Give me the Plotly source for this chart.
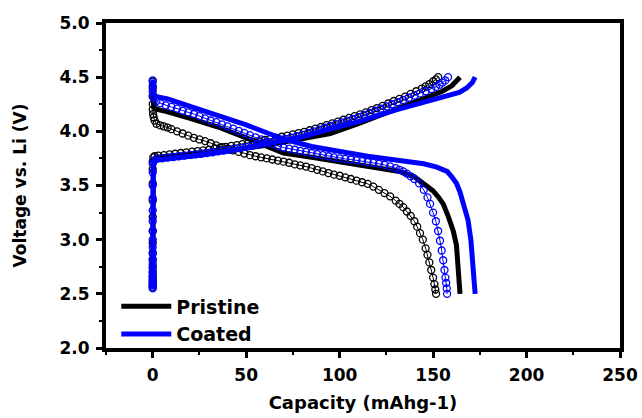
import plotly.graph_objects as go

# ---------------- data ----------------
# Pristine, open-circle series: discharge branch
pc_dis_x = [0, 0, 0, 0, 0, 0.2, 0.5, 1.0, 2, 4, 6, 8, 10, 13, 16, 19, 22, 25, 28, 31, 34, 37, 40, 43, 46, 49,
            52, 55, 58, 61, 64, 67, 70, 73, 76, 79, 82, 85, 88, 91, 94, 97, 100, 103, 106, 109, 112, 115,
            118, 121, 124, 127, 130, 132, 134, 136, 138, 140, 141.5, 143, 144.5, 146, 147, 148, 149, 150,
            150.7, 151.2, 151.6]
pc_dis_v = [4.46, 4.40, 4.32, 4.25, 4.20, 4.16, 4.13, 4.10, 4.07, 4.055, 4.045, 4.035, 4.02, 4.00, 3.98, 3.96,
            3.94, 3.925, 3.91, 3.89, 3.87, 3.855, 3.84, 3.825, 3.81, 3.795, 3.78, 3.77, 3.76, 3.75, 3.74,
            3.73, 3.72, 3.71, 3.695, 3.685, 3.675, 3.66, 3.645, 3.63, 3.615, 3.60, 3.59, 3.575, 3.56, 3.545,
            3.53, 3.515, 3.49, 3.46, 3.43, 3.40, 3.36, 3.33, 3.30, 3.26, 3.22, 3.17, 3.12, 3.06, 3.00, 2.92,
            2.86, 2.79, 2.72, 2.65, 2.59, 2.54, 2.50]
# Pristine, open-circle series: charge branch
pc_chg_x = [0, 0, 0, 0, 0, 0, 0, 0, 0, 0, 0, 0, 0, 0, 0, 0, 0.3, 1, 3, 6, 9, 12, 15, 18, 21, 24, 27, 30, 33,
            36, 39, 42, 45, 48, 51, 54, 57, 60, 63, 66, 69, 72, 75, 78, 81, 84, 87, 90, 93, 96, 99, 102,
            105, 108, 111, 114, 117, 120, 123, 126, 129, 132, 135, 138, 141, 144, 146, 148, 150, 151.5, 152.7]
pc_chg_v = [2.56, 2.58, 2.60, 2.63, 2.66, 2.70, 2.75, 2.81, 2.88, 2.97, 3.08, 3.21, 3.36, 3.52, 3.65, 3.72,
            3.76, 3.77, 3.775, 3.78, 3.787, 3.793, 3.80, 3.806, 3.812, 3.818, 3.824, 3.83, 3.84, 3.848,
            3.856, 3.865, 3.873, 3.882, 3.891, 3.90, 3.91, 3.92, 3.93, 3.94, 3.95, 3.96, 3.972, 3.983,
            3.995, 4.01, 4.025, 4.04, 4.057, 4.073, 4.09, 4.107, 4.124, 4.14, 4.157, 4.175, 4.195, 4.215,
            4.235, 4.257, 4.28, 4.30, 4.32, 4.345, 4.37, 4.395, 4.415, 4.435, 4.46, 4.48, 4.50]

# Pristine, solid-line series
pl_dis_x = [0, 0, 0.5, 3, 8, 20, 35, 50, 60, 70, 85, 100, 115, 132, 140, 145, 150, 153, 155.4, 158, 160.8,
            162.5, 163.4, 164, 164.4]
pl_dis_v = [4.46, 4.30, 4.22, 4.20, 4.18, 4.12, 4.04, 3.94, 3.87, 3.80, 3.76, 3.72, 3.68, 3.63, 3.58, 3.52,
            3.45, 3.39, 3.33, 3.22, 3.08, 2.95, 2.78, 2.65, 2.50]
pl_chg_x = [0, 0, 0.3, 2, 10, 25, 41, 60, 80, 95, 110, 130.7, 148.4, 155, 160, 162.5, 164.4]
pl_chg_v = [2.56, 3.68, 3.73, 3.76, 3.775, 3.79, 3.82, 3.87, 3.93, 3.98, 4.07, 4.21, 4.33, 4.37, 4.42,
            4.46, 4.50]

# Coated, open-circle series
cc_dis_x = [0, 0, 0, 0, 0.5, 2, 4, 7, 10, 13, 16, 19, 22, 25, 28, 31, 34, 37, 40, 43, 46, 49, 52, 55, 58, 61,
            64, 67, 70, 73, 76, 79, 82, 85, 88, 91, 94, 97, 100, 103, 106, 109, 112, 115, 118, 121, 124, 127,
            130, 132, 134, 136, 138, 140, 142.5, 145, 147, 148.4, 150, 151.5, 152.7, 153.7, 154.6, 155.4,
            156.1, 156.6, 157, 157.3, 157.5]
cc_dis_v = [4.47, 4.42, 4.37, 4.33, 4.31, 4.28, 4.26, 4.24, 4.225, 4.21, 4.19, 4.175, 4.16, 4.14, 4.12, 4.10,
            4.085, 4.065, 4.045, 4.025, 4.005, 3.985, 3.965, 3.945, 3.925, 3.905, 3.885, 3.865, 3.85, 3.84,
            3.83, 3.82, 3.81, 3.80, 3.79, 3.78, 3.77, 3.76, 3.75, 3.745, 3.74, 3.733, 3.725, 3.717, 3.708,
            3.70, 3.69, 3.677, 3.66, 3.645, 3.63, 3.61, 3.585, 3.56, 3.52, 3.46, 3.39, 3.33, 3.25, 3.17, 3.08,
            2.99, 2.90, 2.81, 2.72, 2.65, 2.60, 2.55, 2.50]
cc_chg_x = [0, 0, 0, 0, 0, 0, 0, 0, 0, 0, 0, 0, 0, 0, 0, 0, 0, 0, 0, 0, 0, 0.5, 2, 5, 8, 11, 14, 17, 20, 23,
            26, 29, 32, 35, 38, 41, 44, 47, 50, 53, 56, 59, 62, 65, 68, 71, 74, 77, 80, 83, 86, 89, 92, 95,
            98, 101, 104, 107, 110, 113, 116, 119, 122, 125, 128, 131, 134, 137, 140, 143, 146, 149, 151.5,
            153.5, 155, 156.5, 158]
cc_chg_v = [2.55, 2.565, 2.58, 2.60, 2.62, 2.645, 2.67, 2.70, 2.735, 2.775, 2.82, 2.87, 2.93, 3.00, 3.08,
            3.17, 3.27, 3.38, 3.50, 3.62, 3.70, 3.73, 3.745, 3.75, 3.757, 3.763, 3.77, 3.776, 3.782, 3.787,
            3.793, 3.80, 3.807, 3.815, 3.822, 3.83, 3.838, 3.847, 3.856, 3.866, 3.876, 3.886, 3.896, 3.907,
            3.918, 3.93, 3.942, 3.955, 3.97, 3.985, 4.00, 4.016, 4.033, 4.05, 4.066, 4.082, 4.098, 4.114,
            4.13, 4.15, 4.17, 4.19, 4.21, 4.23, 4.25, 4.27, 4.29, 4.31, 4.33, 4.35, 4.37, 4.39, 4.41, 4.43,
            4.45, 4.47, 4.50]

# Coated, solid-line series
cl_dis_x = [0, 0, 0.3, 2, 8, 20, 35, 50, 62, 72, 85, 100, 115, 132, 145, 152, 157.5, 160, 162.5, 164.4,
            166.5, 168.7, 170.2, 171.4, 172.0, 172.5]
cl_dis_v = [4.48, 4.42, 4.35, 4.32, 4.30, 4.23, 4.15, 4.06, 3.98, 3.92, 3.86, 3.81, 3.77, 3.73, 3.70, 3.67,
            3.63, 3.58, 3.52, 3.44, 3.33, 3.18, 3.00, 2.78, 2.65, 2.50]
cl_chg_x = [0, 0, 0.3, 2, 10, 25, 41, 60, 80, 95, 110, 130.7, 148.4, 158, 164, 168, 171, 172.5]
cl_chg_v = [2.55, 3.66, 3.71, 3.735, 3.75, 3.78, 3.82, 3.88, 3.95, 4.02, 4.09, 4.20, 4.29, 4.33, 4.36, 4.40,
            4.45, 4.50]

series_names = ["Pristine", "Coated"]
x_ticks = [0, 50, 100, 150, 200, 250]
y_ticks = [2.0, 2.5, 3.0, 3.5, 4.0, 4.5, 5.0]

BLACK = "#000000"
BLUE = "#0000FF"
FONT = "DejaVu Sans"


def joined(a, b):
    return list(a) + [None] + list(b)


fig = go.Figure()

# open-circle series (drawn first, underneath)
fig.add_trace(go.Scatter(
    x=joined(pc_dis_x, pc_chg_x), y=joined(pc_dis_v, pc_chg_v),
    mode="lines+markers", showlegend=False, connectgaps=False,
    line=dict(color=BLACK, width=1),
    marker=dict(symbol="circle-open", size=7, color=BLACK, line=dict(width=1.3, color=BLACK)),
))
fig.add_trace(go.Scatter(
    x=joined(pl_dis_x, pl_chg_x), y=joined(pl_dis_v, pl_chg_v),
    mode="lines", name=series_names[0], connectgaps=False,
    line=dict(color=BLACK, width=5),
))
fig.add_trace(go.Scatter(
    x=joined(cc_dis_x, cc_chg_x), y=joined(cc_dis_v, cc_chg_v),
    mode="lines+markers", showlegend=False, connectgaps=False,
    line=dict(color=BLUE, width=1),
    marker=dict(symbol="circle-open", size=7, color=BLUE, line=dict(width=1.3, color=BLUE)),
))
fig.add_trace(go.Scatter(
    x=joined(cl_dis_x, cl_chg_x), y=joined(cl_dis_v, cl_chg_v),
    mode="lines", name=series_names[1], connectgaps=False,
    line=dict(color=BLUE, width=5),
))

axis_common = dict(
    showline=True, linecolor=BLACK, linewidth=4, mirror=True,
    showgrid=False, zeroline=False, automargin=False,
    ticks="outside", ticklen=6, tickwidth=3, tickcolor=BLACK,
    ticklabelstandoff=3,
    tickfont=dict(family=FONT, size=17, color=BLACK, weight="bold"),
)

fig.update_xaxes(
    range=[-25, 250], tickvals=x_ticks, ticktext=[str(v) for v in x_ticks],
    minor=dict(ticks="outside", ticklen=3, tickwidth=2, tickcolor=BLACK, dtick=25, tick0=0),
    title=dict(text="Capacity (mAhg-1)", font=dict(family=FONT, size=18, color=BLACK, weight="bold"),
               standoff=13),
    **axis_common,
)
fig.update_yaxes(
    range=[2.0, 5.0], tickvals=y_ticks, ticktext=[f"{v:.1f}" for v in y_ticks],
    minor=dict(ticks="outside", ticklen=3, tickwidth=2, tickcolor=BLACK, dtick=0.25, tick0=2.0),
    title=dict(text="Voltage vs. Li (V)", font=dict(family=FONT, size=17, color=BLACK, weight="bold"),
               standoff=30),
    **axis_common,
)

fig.update_layout(
    width=642, height=418,
    margin=dict(l=106, r=22, t=23, b=70),
    plot_bgcolor="white", paper_bgcolor="white",
    showlegend=True,
    legend=dict(
        x=0.02, y=-0.017, xanchor="left", yanchor="bottom",
        bgcolor="rgba(0,0,0,0)", borderwidth=0,
        font=dict(family=FONT, size=19, color=BLACK, weight="bold"),
        itemwidth=50, tracegroupgap=0,
    ),
)

fig.write_html("out.html")
